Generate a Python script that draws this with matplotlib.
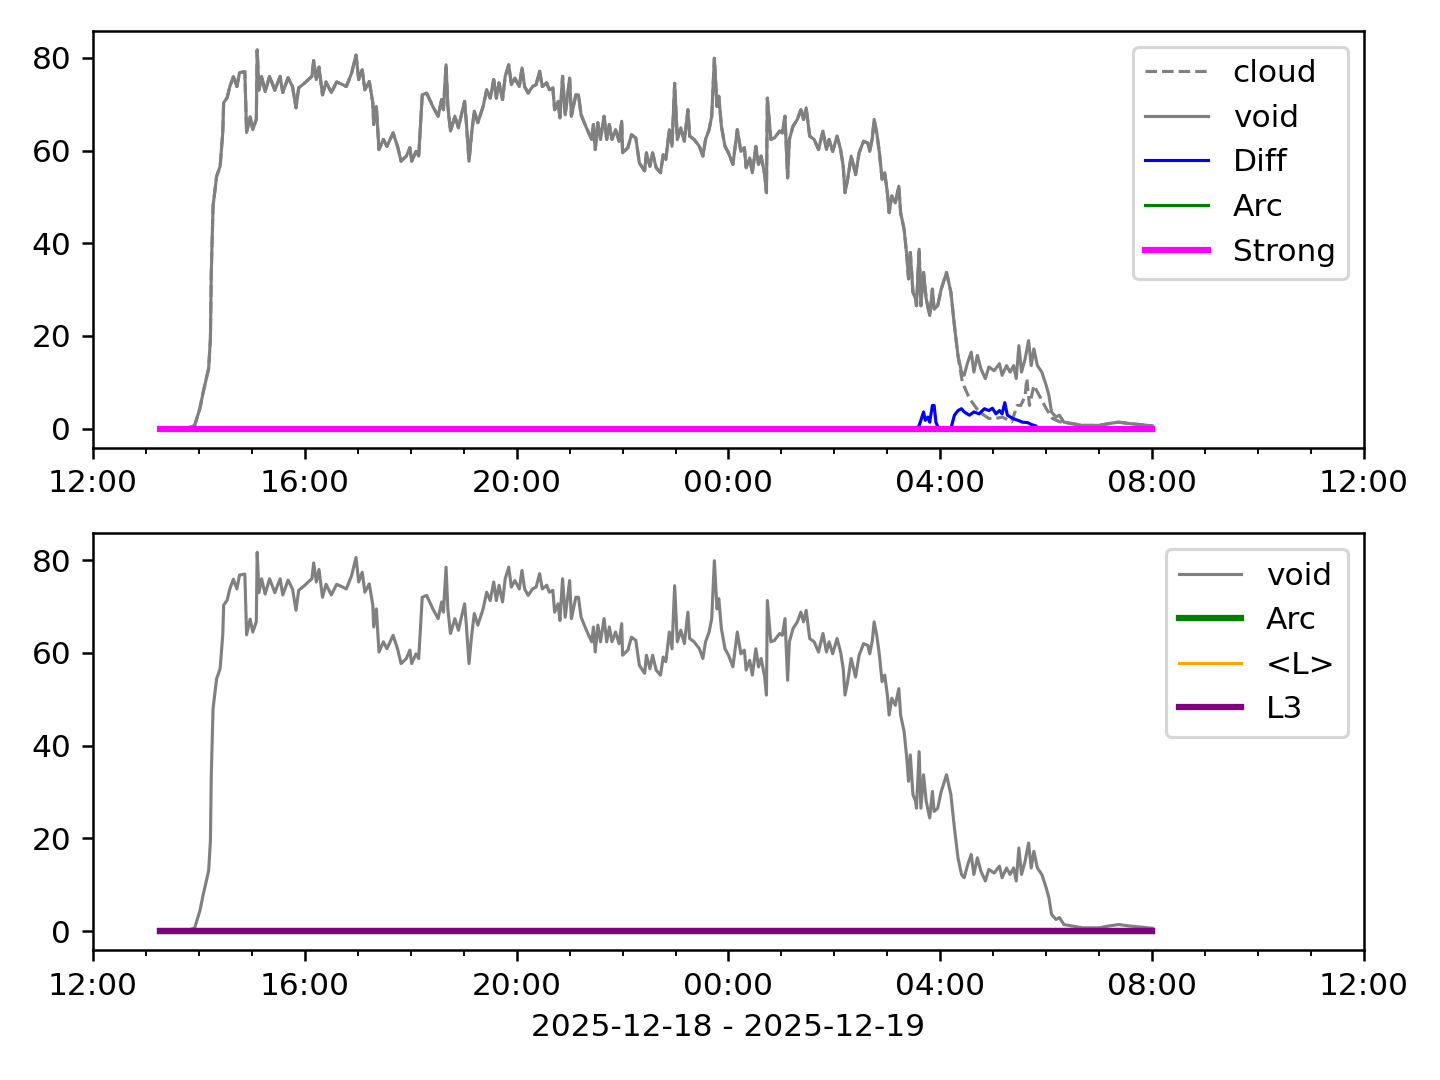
import datetime as dt
import matplotlib
matplotlib.use("Agg")
import matplotlib.pyplot as plt
import matplotlib.dates as mdates

DAY0 = "2025-12-18"
DAY1 = "2025-12-19"

void_time = ["13:16", "13:30", "13:45", "13:55", "14:01", "14:05", "14:11", "14:13", "14:14", "14:16",
             "14:20", "14:24", "14:27", "14:28", "14:32", "14:35", "14:39", "14:43", "14:46", "14:52",
             "14:54", "14:58", "15:01", "15:05", "15:06", "15:08", "15:11", "15:15", "15:20", "15:26",
             "15:32", "15:35", "15:41", "15:46", "15:50", "15:53", "16:00", "16:08", "16:10", "16:13",
             "16:16", "16:20", "16:24", "16:30", "16:36", "16:43", "16:47", "16:53", "16:58", "17:01",
             "17:05", "17:08", "17:13", "17:17", "17:18", "17:21", "17:24", "17:29", "17:33", "17:40",
             "17:45", "17:49", "17:55", "17:59", "18:01", "18:06", "18:09", "18:13", "18:18", "18:25",
             "18:31", "18:35", "18:37", "18:40", "18:42", "18:45", "18:50", "18:54", "18:57", "19:01",
             "19:03", "19:06", "19:09", "19:12", "19:16", "19:22", "19:26", "19:30", "19:34", "19:37",
             "19:40", "19:44", "19:47", "19:51", "19:54", "19:58", "20:03", "20:06", "20:09", "20:13",
             "20:18", "20:22", "20:26", "20:29", "20:34", "20:37", "20:41", "20:43", "20:47", "20:49",
             "20:52", "20:55", "21:00", "21:02", "21:07", "21:10", "21:13", "21:19", "21:25", "21:27",
             "21:29", "21:32", "21:35", "21:39", "21:42", "21:45", "21:48", "21:52", "21:56", "21:59",
             "22:00", "22:06", "22:10", "22:15", "22:19", "22:25", "22:27", "22:31", "22:34", "22:38",
             "22:43", "22:46", "22:49", "22:53", "22:56", "22:59", "23:02", "23:06", "23:10", "23:14",
             "23:16", "23:21", "23:27", "23:31", "23:34", "23:38", "23:41", "23:44", "23:47", "23:49",
             "23:52", "23:56", "00:00", "00:05", "00:10", "00:14", "00:18", "00:20", "00:24", "00:27",
             "00:31", "00:34", "00:37", "00:41", "00:43", "00:44", "00:48", "00:52", "00:58", "01:01",
             "01:04", "01:07", "01:09", "01:13", "01:18", "01:22", "01:25", "01:28", "01:32", "01:37",
             "01:42", "01:47", "01:51", "01:54", "01:58", "02:03", "02:07", "02:10", "02:12", "02:15",
             "02:19", "02:24", "02:28", "02:33", "02:38", "02:40", "02:43", "02:45", "02:48", "02:51",
             "02:54", "02:57", "03:00", "03:02", "03:05", "03:09", "03:13", "03:15", "03:19", "03:22",
             "03:24", "03:26", "03:29", "03:32", "03:33", "03:36", "03:38", "03:41", "03:44", "03:48",
             "03:51", "03:53", "03:57", "04:01", "04:07", "04:12", "04:16", "04:20", "04:24", "04:27",
             "04:31", "04:35", "04:38", "04:42", "04:46", "04:51", "04:55", "05:01", "05:07", "05:10",
             "05:15", "05:19", "05:23", "05:26", "05:29", "05:32", "05:36", "05:40", "05:43", "05:46",
             "05:50", "05:55", "06:00", "06:03", "06:06", "06:11", "06:15", "06:20", "06:29", "06:41",
             "07:00", "07:11", "07:22", "07:34", "07:45", "08:00"]
void_val = [0.0, 0.0, 0.1, 0.6, 4.3, 8.0, 13.0, 19.4, 33.8, 48.0,
            54.4, 56.6, 63.9, 70.3, 71.4, 73.8, 75.9, 73.8, 76.8, 77.0,
            63.9, 67.3, 64.5, 66.7, 81.7, 73.0, 76.0, 72.7, 76.0, 73.0,
            76.0, 72.5, 75.7, 73.8, 69.2, 73.5, 74.6, 76.0, 79.4, 75.3,
            78.0, 72.0, 74.8, 72.5, 74.8, 74.2, 73.8, 76.7, 80.6, 75.3,
            77.4, 73.1, 74.9, 70.3, 65.6, 69.5, 60.2, 62.4, 60.9, 63.8,
            60.9, 57.7, 58.8, 60.6, 57.7, 59.8, 58.8, 72.0, 72.4, 69.5,
            67.4, 71.0, 68.8, 78.5, 69.5, 64.2, 67.4, 64.9, 67.4, 70.6,
            66.0, 57.7, 63.8, 68.5, 66.0, 69.5, 73.1, 71.3, 75.3, 71.3,
            74.6, 71.0, 76.0, 78.5, 74.2, 75.6, 73.8, 77.8, 73.8, 72.4,
            73.8, 74.2, 77.1, 73.8, 74.6, 73.1, 73.5, 68.8, 70.6, 67.0,
            76.0, 67.7, 75.6, 67.4, 72.0, 72.0, 67.7, 64.9, 62.4, 65.6,
            60.2, 66.0, 62.4, 67.4, 62.4, 65.6, 62.4, 64.5, 62.0, 66.3,
            59.5, 60.6, 63.4, 62.7, 57.3, 55.6, 59.5, 56.6, 59.5, 56.3,
            55.2, 59.1, 58.1, 64.5, 60.9, 74.5, 62.4, 64.9, 62.0, 68.8,
            63.1, 62.4, 60.9, 58.8, 62.4, 64.5, 67.4, 79.9, 69.5, 71.7,
            65.2, 60.9, 59.5, 57.0, 64.5, 59.8, 60.6, 56.3, 58.4, 55.2,
            60.9, 57.0, 58.8, 54.8, 50.9, 71.3, 62.4, 62.7, 64.2, 63.8,
            67.4, 54.1, 62.4, 65.2, 66.7, 68.8, 66.7, 69.2, 63.1, 62.4,
            60.2, 64.2, 60.2, 62.4, 59.8, 63.1, 60.2, 56.6, 50.9, 53.8,
            58.8, 54.8, 59.5, 62.0, 61.6, 59.8, 62.7, 66.7, 63.8, 59.5,
            53.8, 55.2, 50.9, 46.6, 50.2, 48.7, 52.3, 46.6, 43.0, 37.3,
            32.3, 38.0, 29.4, 28.0, 26.5, 38.7, 26.5, 33.7, 28.0, 24.4,
            30.1, 25.8, 26.5, 30.1, 33.7, 29.4, 22.2, 15.8, 12.2, 11.5,
            14.3, 16.5, 12.2, 15.8, 12.9, 10.8, 13.3, 12.5, 14.0, 11.5,
            13.6, 12.2, 13.6, 10.8, 17.9, 12.2, 15.0, 19.0, 13.6, 17.2,
            13.6, 12.2, 9.3, 7.2, 3.6, 2.5, 2.9, 1.4, 1.1, 0.7,
            0.7, 1.1, 1.4, 1.1, 0.9, 0.6]

# cloud follows void until 04:16, then diverges
cloud_split = "04:16"
cloud_tail_time = ["04:20", "04:25", "04:33", "04:44", "04:55", "05:03", "05:10", "05:21", "05:27",
                   "05:31", "05:36", "05:38", "05:41", "05:46", "05:52", "06:00", "06:07", "06:15",
                   "06:29", "06:41", "07:00", "07:11", "07:22", "07:34", "07:45", "08:00"]
cloud_tail_val = [15.7, 10.0, 6.5, 3.6, 2.2, 2.2, 2.5, 1.5, 5.0,
                  5.0, 6.9, 10.8, 5.0, 9.3, 7.2, 4.3, 2.2, 1.5,
                  1.1, 0.7, 0.7, 1.1, 1.4, 1.1, 0.9, 0.6]

diff_time = ["03:34", "03:36", "03:38", "03:41", "03:43", "03:46", "03:48", "03:51", "03:53", "03:55",
             "03:58", "04:12", "04:14", "04:16", "04:20", "04:24", "04:27", "04:33", "04:38", "04:44",
             "04:50", "04:55", "04:59", "05:03", "05:07", "05:10", "05:13", "05:16", "05:22", "05:28",
             "05:33", "05:39", "05:43", "05:48"]
diff_val = [0.0, 0.7, 1.8, 3.6, 1.8, 2.5, 1.4, 5.0, 5.0, 1.4,
            0.0, 0.0, 1.5, 2.9, 3.9, 4.3, 3.6, 2.9, 3.6, 3.2,
            4.3, 3.9, 4.4, 3.2, 3.9, 3.2, 5.6, 2.9, 2.2, 1.8,
            1.4, 1.3, 0.9, 0.6]

zero_time = ["13:16", "08:00"]
arc_val = [0.0, 0.0]
strong_val = [0.0, 0.0]
meanL_val = [0.0, 0.0]
l3_val = [0.0, 0.0]

xlim_time = ["12:00", "12:00+"]


def to_dt(s):
    nxt = s.endswith("+")
    s = s.rstrip("+")
    h, m = map(int, s.split(":"))
    day = DAY1 if (h < 12 or nxt) else DAY0
    return dt.datetime.fromisoformat(f"{day} {h:02d}:{m:02d}")


def conv(lst):
    return [to_dt(s) for s in lst]


vt = conv(void_time)
split_idx = void_time.index(cloud_split) + 1
ct = vt[:split_idx] + conv(cloud_tail_time)
cv = void_val[:split_idx] + cloud_tail_val
dtt = conv(diff_time)
zt = conv(zero_time)
xl = [to_dt(xlim_time[0]), to_dt(xlim_time[1])]

fig, (ax1, ax2) = plt.subplots(2, 1, figsize=(6.4, 4.8), dpi=225)

ax1.plot(ct, cv, color="grey", ls="--", lw=1, label="cloud")
ax1.plot(vt, void_val, color="grey", lw=1, label="void")
ax1.plot(dtt, diff_val, color="blue", lw=1, label="Diff")
ax1.plot(zt, arc_val, color="green", lw=1, label="Arc")
ax1.plot(zt, strong_val, color="magenta", lw=2, label="Strong")
ax1.legend(loc="upper right")

ax2.plot(vt, void_val, color="grey", lw=1, label="void")
ax2.plot(zt, arc_val, color="green", lw=2, label="Arc")
ax2.plot(zt, meanL_val, color="orange", lw=1, label="<L>")
ax2.plot(zt, l3_val, color="purple", lw=2, label="L3")
ax2.legend(loc="upper right")

for ax in (ax1, ax2):
    ax.set_xlim(xl)
    ax.xaxis.set_major_locator(mdates.HourLocator(byhour=[0, 4, 8, 12, 16, 20]))
    ax.xaxis.set_minor_locator(mdates.HourLocator(interval=1))
    ax.xaxis.set_major_formatter(mdates.DateFormatter("%H:%M"))

ax2.set_xlabel(f"{DAY0} - {DAY1}")
fig.subplots_adjust(left=0.0646, right=0.9472, top=0.9713, bottom=0.1204, hspace=0.206)
fig.savefig("out.png", dpi=225)
